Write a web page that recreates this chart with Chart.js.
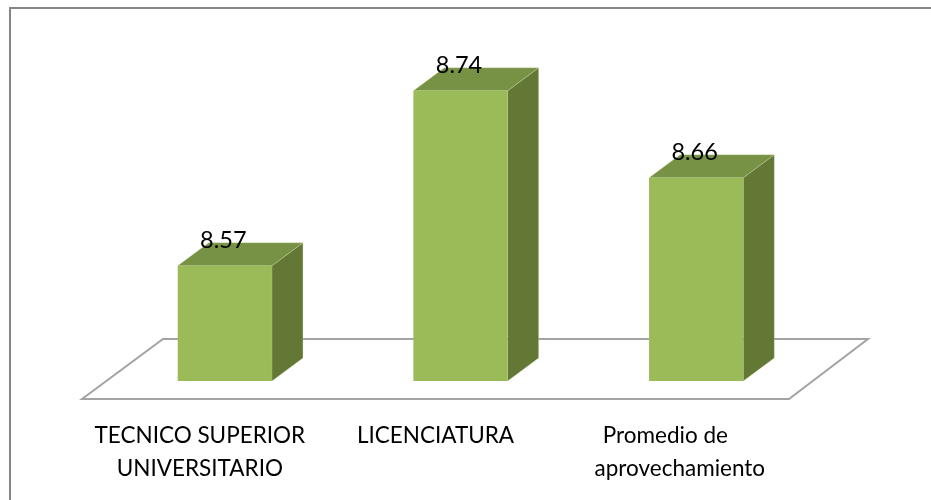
<!DOCTYPE html>
<html>
<head>
<meta charset="utf-8">
<script src="https://cdn.jsdelivr.net/npm/chart.js@4"></script>
<style>
  html, body { margin: 0; padding: 0; background: #fff; }
  #wrap { position: relative; width: 931px; height: 500px; overflow: hidden; }
</style>
</head>
<body>
<div id="wrap"><canvas id="bars-canvas" width="931" height="500"></canvas></div>
<script>
const categories = [
  ['TECNICO SUPERIOR', 'UNIVERSITARIO'],
  'LICENCIATURA',
  ['Promedio de  ', '   aprovechamiento']
];
const values = [8.57, 8.74, 8.6555];

const FONT = 'Lato, "Open Sans", sans-serif';

// fake 3d: side and top faces + floor, everything hung off the bar elements
const box3d = {
  id: 'box3d',
  beforeDatasetsDraw(chart) {
    const { ctx, chartArea: a } = chart;
    ctx.save();
    ctx.strokeStyle = '#a3a3a3';
    ctx.lineWidth = 2;
    ctx.lineJoin = 'miter';
    ctx.beginPath();
    ctx.moveTo(a.left - 25, a.bottom + 18);
    ctx.lineTo(a.left + 56, a.bottom - 42);
    ctx.lineTo(a.right + 54, a.bottom - 42);
    ctx.lineTo(a.right - 25, a.bottom + 18);
    ctx.closePath();
    ctx.stroke();
    const dx = 31, dy = 23;
    ctx.strokeStyle = 'rgba(214,226,176,0.3)';
    ctx.lineWidth = 1;
    chart.getDatasetMeta(0).data.forEach(function(bar) {
      const l = bar.x - bar.width / 2, r = bar.x + bar.width / 2;
      // base is far below the cut axis, the bars stop at the chart area
      const bottom = a.bottom;
      ctx.fillStyle = '#647835';
      ctx.beginPath();
      ctx.moveTo(r, bar.y);
      ctx.lineTo(r + dx, bar.y - dy);
      ctx.lineTo(r + dx, bottom - dy);
      ctx.lineTo(r, bottom);
      ctx.closePath();
      ctx.fill();
      ctx.stroke();
      ctx.fillStyle = '#789245';
      ctx.beginPath();
      ctx.moveTo(l, bar.y);
      ctx.lineTo(l + dx, bar.y - dy);
      ctx.lineTo(r + dx, bar.y - dy);
      ctx.lineTo(r, bar.y);
      ctx.closePath();
      ctx.fill();
      ctx.stroke();
    });
    ctx.restore();
  },
  afterDatasetsDraw(chart) {
    const { ctx } = chart;
    ctx.save();
    ctx.fillStyle = '#000';
    ctx.font = '23.5px ' + FONT;
    ctx.textAlign = 'center';
    ctx.textBaseline = 'middle';
    chart.getDatasetMeta(0).data.forEach(function(bar, i) {
      ctx.fillText(values[i].toFixed(2), bar.x - 1.5, bar.y - 25);
    });
    ctx.restore();
  }
};

// the picture only has its top and left edge
const frame = {
  id: 'frame',
  beforeDraw(chart) {
    const { ctx, width, height } = chart;
    ctx.save();
    ctx.fillStyle = '#868686';
    ctx.fillRect(9, 7, width - 9, 2);
    ctx.fillRect(9, 7, 2, height - 7);
    ctx.restore();
  }
};

new Chart(document.getElementById('bars-canvas'), {
  type: 'bar',
  data: {
    labels: categories,
    datasets: [{
      label: 'Promedio',
      data: values,
      backgroundColor: '#9bbb59',
      borderWidth: 0,
      barPercentage: 0.4,
      categoryPercentage: 1
    }]
  },
  options: {
    responsive: false,
    animation: false,
    layout: {
      padding: { left: 107, right: 117, top: 29, bottom: 0 }
    },
    scales: {
      x: {
        grid: { display: false },
        border: { display: false },
        afterFit(scale) { scale.height = 119; },
        ticks: {
          color: '#000',
          font: { family: FONT, size: 22.5, lineHeight: 1.5 },
          maxRotation: 0,
          autoSkip: false,
          labelOffset: -25,
          padding: 29.5
        }
      },
      y: {
        display: false,
        min: 8.458,
        max: 8.8
      }
    },
    plugins: {
      legend: false,
      title: { display: false },
      tooltip: { enabled: false }
    }
  },
  plugins: [frame, box3d]
});
</script>
</body>
</html>
